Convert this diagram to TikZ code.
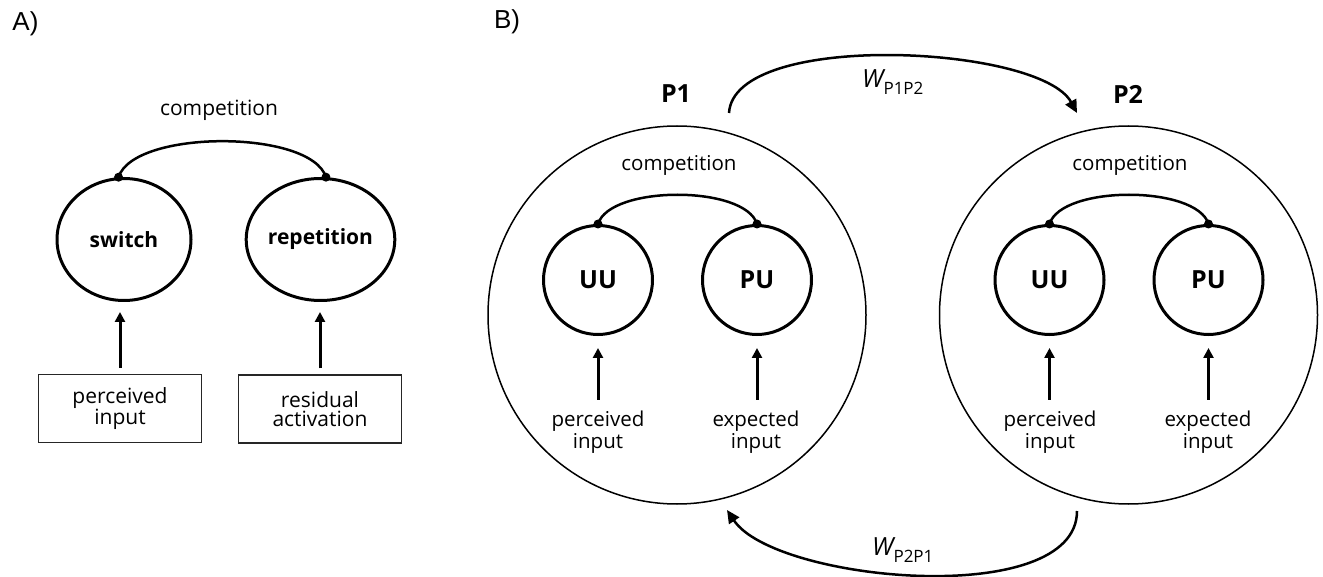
\documentclass[tikz,border=0pt]{standalone}
\usepackage{fontspec}
\setmainfont{Open Sans}
\newfontfamily\labfont{Liberation Sans}
\usetikzlibrary{arrows.meta,shapes.geometric}
\newcommand\wlab[1]{{\fontsize{25}{25}\selectfont\itshape W}\raisebox{-7pt}{\fontsize{17}{17}\selectfont #1}}
\begin{document}
\begin{tikzpicture}[x=1pt,y=-1pt,
  panel/.style={font=\labfont\fontsize{26}{26}\selectfont, inner sep=0pt},
  txt/.style={font=\fontsize{21}{19}\selectfont, align=center, inner sep=0pt},
  txtb/.style={font=\fontsize{20.5}{21.5}\selectfont, align=center, inner sep=0pt},
  unitA/.style={ellipse, draw, line width=3pt, minimum width=134pt, minimum height=122pt, inner sep=0pt, font=\bfseries\fontsize{21}{21}\selectfont},
  unitB/.style={circle, draw, line width=3pt, minimum size=109pt, inner sep=0pt, font=\bfseries\fontsize{25}{25}\selectfont},
  bigc/.style={circle, draw, line width=1.5pt, minimum size=378pt, inner sep=0pt},
  plbl/.style={font=\bfseries\fontsize{25}{25}\selectfont, inner sep=0pt},
  inbox/.style={draw=black!85, line width=1.4pt, minimum width=163pt, minimum height=68pt, inner sep=0pt, align=center, font=\fontsize{21}{19}\selectfont},
  uarr/.style={line width=3pt, -{Triangle[length=10pt,width=10pt]}},
  comp/.style={line width=2.5pt},
  warr/.style={line width=2.5pt, -{Triangle[length=13pt,width=12pt]}},
  dotc/.style={fill=black}
]
\useasboundingbox (0,0) rectangle (1323,577);

% panel labels
\node[panel] (lA) at (25.5,24) {A)};
\node[panel] (lB) at (507,22) {B)};

% ---------- Panel A ----------
\node[txt] (compA) at (219,110) {competition};
\node[unitA] (sw) at (124,239.5) {switch};
\node[unitA] (rp) at (320.5,239.5) {repetition};
\node[inbox] (bx1) at (120,408.5) {perceived\\input};
\node[inbox] (bx2) at (320,409) {residual\\activation};
\draw[uarr, shorten <=6pt, shorten >=10pt] (bx1.north) -- (bx1.north |- sw.south);
\draw[uarr, shorten <=6pt, shorten >=10pt] (bx2.north) -- (bx2.north |- rp.south);
\draw[comp] (sw.95) .. controls +(15,-48) and +(-15,-48) .. (rp.85);
\fill[dotc] (sw.95) circle (4.5pt);
\fill[dotc] (rp.85) circle (4.5pt);

% ---------- Panel B ----------
\node[bigc] (P1) at (677,315) {};
\node[bigc] (P2) at (1128.5,315) {};
\node[plbl] (P1l) at (676,94) {P1};
\node[plbl] (P2l) at (1128,94) {P2};

% P1 contents
\node[txtb] (c1) at (679,165) {competition};
\node[unitB] (uu1) at (598,280) {UU};
\node[unitB] (pu1) at (757,280) {PU};
\node[txtb] (pi1) at (598,432) {perceived\\input};
\node[txtb] (ei1) at (756,432) {expected\\input};
\draw[uarr, shorten <=11pt, shorten >=12pt] (pi1.north -| uu1.south) -- (uu1.south);
\draw[uarr, shorten <=11pt, shorten >=12pt] (ei1.north -| pu1.south) -- (pu1.south);
\draw[comp] (uu1.north) .. controls +(12,-39) and +(-12,-39) .. (pu1.north);
\fill[dotc] (uu1.north) circle (4.5pt);
\fill[dotc] (pu1.north) circle (4.5pt);

% P2 contents
\node[txtb] (c2) at (1130,165) {competition};
\node[unitB] (uu2) at (1049.5,280) {UU};
\node[unitB] (pu2) at (1208.5,280) {PU};
\node[txtb] (pi2) at (1050,432) {perceived\\input};
\node[txtb] (ei2) at (1208,432) {expected\\input};
\draw[uarr, shorten <=11pt, shorten >=12pt] (pi2.north -| uu2.south) -- (uu2.south);
\draw[uarr, shorten <=11pt, shorten >=12pt] (ei2.north -| pu2.south) -- (pu2.south);
\draw[comp] (uu2.north) .. controls +(12,-39) and +(-12,-39) .. (pu2.north);
\fill[dotc] (uu2.north) circle (4.5pt);
\fill[dotc] (pu2.north) circle (4.5pt);

% weights between P1 and P2
\coordinate (w12s) at ([shift={(52,-202)}]P1.center);
\coordinate (w12e) at ([shift={(-51.5,-202)}]P2.center);
\coordinate (w21s) at ([shift={(-51.5,196)}]P2.center);
\coordinate (w21e) at ([shift={(50,195)}]P1.center);
\draw[warr] (w12s) .. controls +(5,-83) and +(-37,-68) .. (w12e);
\draw[warr] (w21s) .. controls +(0,99) and +(48,72) .. (w21e);
\node[anchor=base west, inner sep=0pt] (w12) at (862,88) {\wlab{P1P2}};
\node[anchor=base west, inner sep=0pt] (w21) at (872,555) {\wlab{P2P1}};
\end{tikzpicture}
\end{document}
